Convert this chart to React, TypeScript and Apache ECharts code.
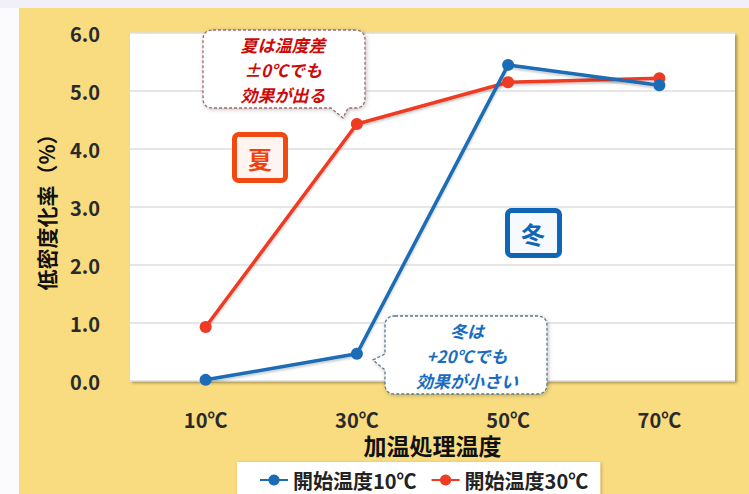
import React, { useEffect, useRef } from "react";
import * as echarts from "echarts";

const categories = ["10℃", "30℃", "50℃", "70℃"];
const start10 = [0.02, 0.47, 5.45, 5.1];
const start30 = [0.93, 4.43, 5.15, 5.22];
const yTicks = { min: 0, max: 6, interval: 1 };
const seriesNames = ["開始温度10℃", "開始温度30℃"];
const summerNote = ["夏は温度差", "±0℃でも", "効果が出る"];
const winterNote = ["冬は", "+20℃でも", "効果が小さい"];

const FONT = '"Noto Sans CJK JP", "Noto Sans", sans-serif';
const BLUE = "#1a6cb6";
const RED = "#ee3b22";

let registered = false;
function registerShapes() {
  if (registered) return;
  registered = true;
  echarts.graphic.registerShape(
    "bubbleRed",
    echarts.graphic.extendPath(
      "M10,0 H152 Q162,0 162,10 V68 Q162,78 152,78 H145 L140,88 L128,78 H10 Q0,78 0,68 V10 Q0,0 10,0 Z",
      {}
    )
  );
  echarts.graphic.registerShape(
    "bubbleBlue",
    echarts.graphic.extendPath(
      "M10,0 H152 Q162,0 162,10 V68 Q162,78 152,78 H10 Q0,78 0,68 V54 L-12,44 L0,38 V10 Q0,0 10,0 Z",
      {}
    )
  );
}

function noteLines(lines: string[], cx: number, firstY: number, step: number, color: string) {
  return lines.map((t, i) => ({
    type: "text",
    x: cx,
    y: firstY + i * step,
    z: 21,
    style: { text: t, fill: color, font: `italic bold 17px ${FONT}`, align: "center", verticalAlign: "middle" },
  }));
}

export default function App() {
  const ref = useRef<HTMLDivElement>(null);
  useEffect(() => {
    document.body.style.margin = "0";
    registerShapes();
    const chart = echarts.init(ref.current!, null, { renderer: "svg" });
    chart.setOption({
      animation: false,
      backgroundColor: "#fbfbfd",
      textStyle: { fontFamily: FONT },
      grid: {
        left: 130,
        right: 14,
        top: 33,
        bottom: 113,
        show: true,
        backgroundColor: "#ffffff",
        borderWidth: 0,
        shadowColor: "rgba(0,0,0,0.35)",
        shadowBlur: 3,
        shadowOffsetX: 2,
        shadowOffsetY: 2,
      },
      graphic: [
        { type: "rect", z: -10, shape: { x: 0, y: 0, width: 749, height: 8 }, style: { fill: "#f1eff8" }, silent: true },
        { type: "rect", z: -10, shape: { x: 19, y: 8, width: 730, height: 486 }, style: { fill: "#f9dc80" }, silent: true },
        {
          type: "bubbleRed",
          x: 203,
          y: 30,
          z: 20,
          style: { fill: "#ffffff", stroke: "#9a6a6a", lineWidth: 1.3, lineDash: [3, 2], shadowBlur: 4, shadowColor: "rgba(0,0,0,0.25)", shadowOffsetX: 1, shadowOffsetY: 1 },
        },
        ...noteLines(summerNote, 283, 44, 25, "#cc0a0a"),
        {
          type: "bubbleBlue",
          x: 385,
          y: 316,
          z: 20,
          style: { fill: "#ffffff", stroke: "#5a7a8a", lineWidth: 1.3, lineDash: [3, 2], shadowBlur: 4, shadowColor: "rgba(0,0,0,0.25)", shadowOffsetX: 1, shadowOffsetY: 1 },
        },
        ...noteLines(winterNote, 467, 330, 25, "#1a6cc0"),
        {
          type: "rect",
          z: 20,
          shape: { x: 234.5, y: 134.5, width: 51, height: 46, r: 4 },
          style: { fill: "#fff4ef", stroke: "#f04a12", lineWidth: 5 },
        },
        {
          type: "text",
          x: 260,
          y: 158,
          z: 21,
          style: { text: "夏", fill: "#f0420e", font: `bold 24px ${FONT}`, align: "center", verticalAlign: "middle" },
        },
        {
          type: "rect",
          z: 20,
          shape: { x: 507.5, y: 210.5, width: 52, height: 45, r: 4 },
          style: { fill: "#f6fafe", stroke: "#0f66b6", lineWidth: 5 },
        },
        {
          type: "text",
          x: 533,
          y: 233,
          z: 21,
          style: { text: "冬", fill: "#1066b6", font: `bold 24px ${FONT}`, align: "center", verticalAlign: "middle" },
        },
      ],
      legend: {
        data: seriesNames,
        left: 237,
        top: 462,
        backgroundColor: "#ffffff",
        padding: [8, 12, 14, 22],
        itemGap: 14,
        itemWidth: 28,
        itemHeight: 14,
        shadowColor: "rgba(0,0,0,0.3)",
        shadowBlur: 3,
        shadowOffsetX: 1,
        shadowOffsetY: 1,
        textStyle: { fontFamily: FONT, fontWeight: "bold", fontSize: 20, color: "#222" },
      },
      xAxis: {
        type: "category",
        data: categories,
        boundaryGap: true,
        axisLine: { show: false },
        axisTick: { show: false },
        axisLabel: { margin: 28, fontFamily: FONT, fontWeight: "bold", fontSize: 20, color: "#2a2a2a" },
        name: "加温処理温度",
        nameLocation: "middle",
        nameGap: 52,
        nameTextStyle: { fontFamily: FONT, fontWeight: "bold", fontSize: 23, color: "#111" },
      },
      yAxis: {
        type: "value",
        min: yTicks.min,
        max: yTicks.max,
        interval: yTicks.interval,
        axisLine: { show: false },
        axisTick: { show: false },
        splitLine: { lineStyle: { color: "#dedede", width: 1.5 } },
        axisLabel: {
          margin: 30,
          fontFamily: FONT,
          fontWeight: "bold",
          fontSize: 20,
          color: "#2a2a2a",
          formatter: (v: number) => v.toFixed(1),
        },
        name: "低密度化率（%）",
        nameLocation: "middle",
        nameGap: 74,
        nameTextStyle: { fontFamily: FONT, fontWeight: "bold", fontSize: 21, color: "#111" },
      },
      series: [
        {
          name: seriesNames[0],
          type: "line",
          data: start10,
          symbol: "circle",
          symbolSize: 12,
          z: 3,
          itemStyle: { color: BLUE },
          lineStyle: { color: BLUE, width: 3.5, shadowColor: "rgba(0,0,0,0.2)", shadowBlur: 2, shadowOffsetY: 2 },
        },
        {
          name: seriesNames[1],
          type: "line",
          data: start30,
          symbol: "circle",
          symbolSize: 12,
          z: 2,
          itemStyle: { color: RED },
          lineStyle: { color: RED, width: 3.5, shadowColor: "rgba(0,0,0,0.2)", shadowBlur: 2, shadowOffsetY: 2 },
        },
      ],
    });
    return () => chart.dispose();
  }, []);
  return <div ref={ref} style={{ width: 749, height: 494 }} />;
}
